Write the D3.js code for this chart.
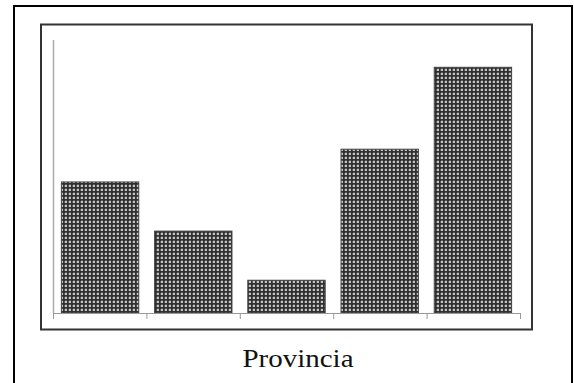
<!DOCTYPE html>
<html>
<head>
<meta charset="utf-8">
<script src="https://cdn.jsdelivr.net/npm/d3@7"></script>
<style>
  body { margin: 0; background: #fff; }
  svg { display: block; }
</style>
</head>
<body>
<svg id="chart" width="574" height="383"></svg>
<script>
// data (no value labels shown, y scale is relative)
var categories = ["A", "B", "C", "D", "E"];
var values = [4.8, 3.0, 1.2, 6.0, 9.0];
var yMax = 10;
var axisTitle = "Provincia";

var svg = d3.select("#chart");

// pattern fill for the bars
var defs = svg.append("defs");
var pat = defs.append("pattern")
  .attr("id", "check")
  .attr("patternUnits", "userSpaceOnUse")
  .attr("width", 4)
  .attr("height", 4);
pat.append("rect").attr("width", 4).attr("height", 4).attr("fill", "#303030");
pat.append("rect").attr("x", 1).attr("y", 1).attr("width", 2).attr("height", 2).attr("fill", "#c4c4c4");
pat.append("rect").attr("x", 0).attr("y", 1).attr("width", 1).attr("height", 2).attr("fill", "#555");
pat.append("rect").attr("x", 1).attr("y", 0).attr("width", 2).attr("height", 1).attr("fill", "#555");

// outer frame
svg.append("rect")
  .attr("x", 14).attr("y", 6)
  .attr("width", 558).attr("height", 390)
  .attr("fill", "none")
  .attr("stroke", "#000")
  .attr("stroke-width", 2);

// inner plot frame
svg.append("rect")
  .attr("x", 41).attr("y", 24.5)
  .attr("width", 491).attr("height", 305)
  .attr("fill", "none")
  .attr("stroke", "#333")
  .attr("stroke-width", 2);

var plotLeft = 53, plotRight = 520, plotTop = 40, plotBottom = 313;

var x = d3.scaleBand()
  .domain(categories)
  .range([plotLeft, plotRight])
  .paddingInner(0.17)
  .paddingOuter(0.09);

var y = d3.scaleLinear()
  .domain([0, yMax])
  .range([plotBottom, plotTop]);

// bars
svg.append("g")
  .selectAll("rect")
  .data(values)
  .join("rect")
    .attr("x", (d, i) => x(categories[i]))
    .attr("y", d => y(d))
    .attr("width", x.bandwidth())
    .attr("height", d => y(0) - y(d))
    .attr("fill", "url(#check)")
    .attr("stroke", "#444")
    .attr("stroke-width", 1);

// y axis line only
svg.append("line")
  .attr("x1", plotLeft + 0.5).attr("x2", plotLeft + 0.5)
  .attr("y1", plotTop).attr("y2", plotBottom)
  .attr("stroke", "#aaa")
  .attr("stroke-width", 1.5);

// x axis with ticks between categories
var step = (plotRight - plotLeft) / categories.length;
var tickPos = d3.range(categories.length + 1).map(i => plotLeft + i * step);
var xLin = d3.scaleLinear().domain([plotLeft, plotRight]).range([plotLeft, plotRight]);
var xAxis = d3.axisBottom(xLin)
  .tickValues(tickPos)
  .tickSize(6)
  .tickSizeOuter(0)
  .tickFormat("");

svg.append("g")
  .attr("transform", "translate(0," + plotBottom + ")")
  .call(xAxis)
  .call(g => g.selectAll("path, line").attr("stroke", "#999"));

// axis title
svg.append("text")
  .attr("x", 298)
  .attr("y", 367)
  .attr("text-anchor", "middle")
  .attr("font-family", "'Liberation Serif', 'Times New Roman', serif")
  .attr("font-size", 25)
  .attr("textLength", 111)
  .attr("lengthAdjust", "spacingAndGlyphs")
  .attr("fill", "#111")
  .text(axisTitle);
</script>
</body>
</html>
